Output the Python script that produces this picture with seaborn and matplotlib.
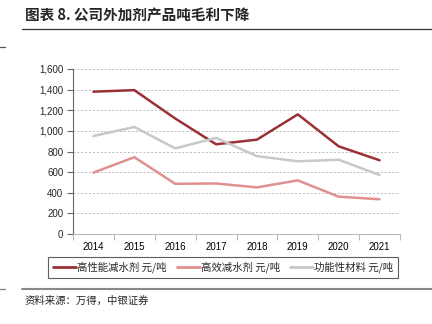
import matplotlib
matplotlib.use("Agg")
import matplotlib.pyplot as plt
import seaborn as sns
import pandas as pd
import numpy as np

years = [2014, 2015, 2016, 2017, 2018, 2019, 2020, 2021]
high_perf = [1380, 1395, 1120, 870, 915, 1160, 850, 715]
high_eff = [595, 745, 487, 490, 452, 520, 362, 337]
functional = [950, 1038, 830, 932, 755, 705, 720, 572]
series_names = ["高性能减水剂 元/吨", "高效减水剂 元/吨", "功能性材料 元/吨"]
colors = ["#9B3135", "#E09090", "#C8C8C8"]
yticks = [0, 200, 400, 600, 800, 1000, 1200, 1400, 1600]

sns.set_theme(style="white")
plt.rcParams['font.family'] = ['Liberation Sans', 'Noto Sans CJK SC', 'DejaVu Sans']

df = pd.DataFrame({
    "year": years * 3,
    "value": high_perf + high_eff + functional,
    "series": [series_names[0]] * 8 + [series_names[1]] * 8 + [series_names[2]] * 8,
})

fig = plt.figure(figsize=(4.32, 3.24), dpi=100)
ax = fig.add_axes([73 / 432, 1 - 234 / 324, (400 - 73) / 432, (234 - 69) / 324])

sns.lineplot(data=df, x="year", y="value", hue="series", palette=colors,
             hue_order=series_names, linewidth=1.8, ax=ax, legend=False)

ax.set_xlim(2013.5, 2021.5)
ax.set_ylim(0, 1600)
ax.set_xticks(np.arange(2013.5, 2022, 1.0))
ax.set_xticklabels([])
ax.set_xticks(years, minor=True)
ax.set_xticklabels([str(y) for y in years], minor=True)
ax.tick_params(axis="x", which="major", direction="out", length=4, color="#BBBBBB", width=0.8, bottom=True)
ax.tick_params(axis="x", which="minor", length=0, labelsize=7, pad=6, colors="#000000")
ax.set_yticks(yticks)
ax.set_yticklabels([f"{v:,}" for v in yticks])
ax.tick_params(axis="y", direction="out", length=4, color="#666666", width=0.8, labelsize=7, left=True, pad=3)
ax.yaxis.grid(True, linestyle=(0, (2, 2)), color="#BBBBBB", linewidth=0.7)
ax.set_axisbelow(True)
for s in ["top", "right"]:
    ax.spines[s].set_visible(False)
ax.spines["left"].set_color("#666666")
ax.spines["left"].set_linewidth(0.8)
ax.spines["bottom"].set_color("#BBBBBB")
ax.spines["bottom"].set_linewidth(0.8)
ax.set_xlabel("")
ax.set_ylabel("")

handles = [plt.Line2D([0], [0], color=c, linewidth=2) for c in colors]
leg = fig.legend(handles, series_names, loc="center", bbox_to_anchor=(223 / 432, 1 - 267 / 324),
                 ncol=3, frameon=True, handlelength=2.2, handletextpad=0.1,
                 columnspacing=1.0, borderpad=0.45, fancybox=False,
                 prop={"family": ["Noto Sans CJK SC"], "size": 7.5})
leg.get_frame().set_edgecolor("#333333")
leg.get_frame().set_linewidth(0.8)

fig.text(25 / 432, 1 - 16 / 324, "图表 8. 公司外加剂产品吨毛利下降", fontsize=10.5, fontweight="bold",
         family=["Noto Sans CJK SC"], va="center", ha="left")
fig.add_artist(plt.Line2D([22 / 432, 1], [1 - 29 / 324, 1 - 29 / 324], color="#333333", linewidth=0.9))
fig.add_artist(plt.Line2D([0, 5 / 432], [1 - 47 / 324, 1 - 47 / 324], color="#555555", linewidth=0.9))
fig.add_artist(plt.Line2D([22 / 432, 1], [1 - 289 / 324, 1 - 289 / 324], color="#888888", linewidth=1.5))
fig.add_artist(plt.Line2D([0, 5 / 432], [1 - 289 / 324, 1 - 289 / 324], color="#888888", linewidth=1.0))
fig.text(25 / 432, 1 - 301 / 324, "资料来源：万得，中银证券", fontsize=7.5, style="italic",
         family=["Noto Sans CJK SC"], va="center", ha="left")

fig.savefig("out.png", dpi=100)
